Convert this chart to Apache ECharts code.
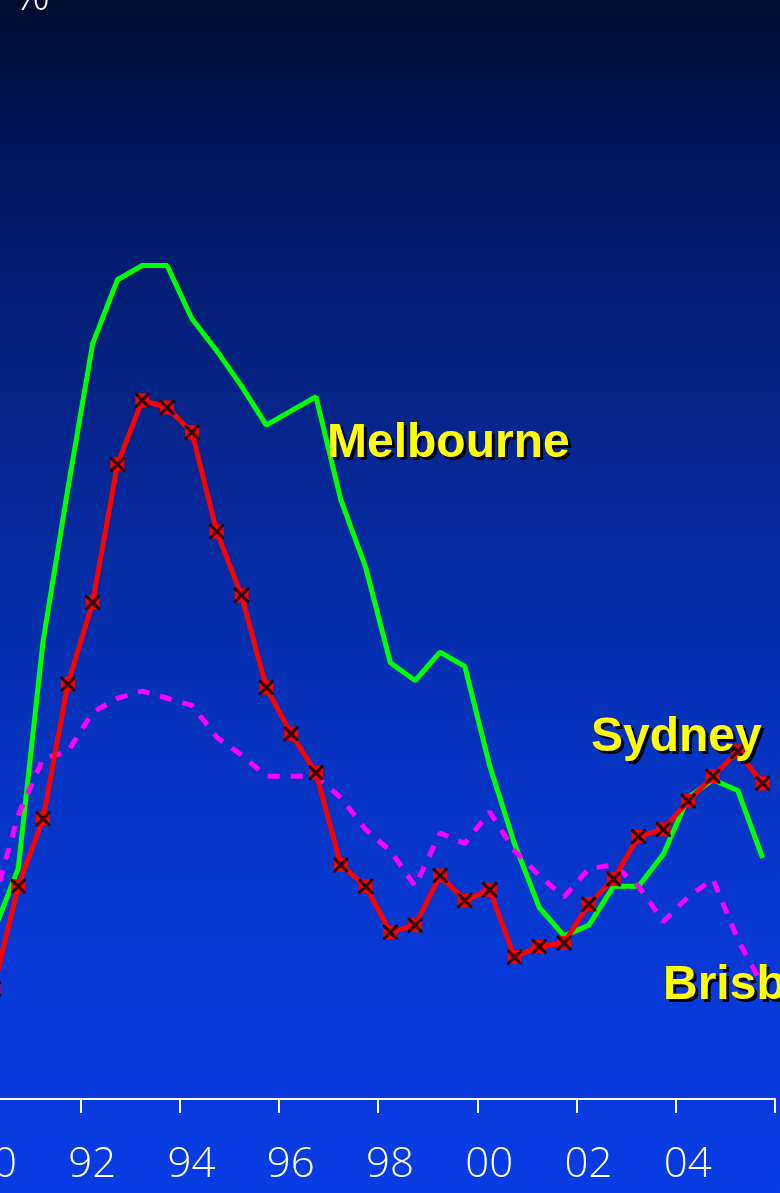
<!DOCTYPE html>
<html>
<head>
<meta charset="utf-8">
<script src="https://cdn.jsdelivr.net/npm/echarts@6/dist/echarts.min.js"></script>
<style>
  html, body { margin: 0; padding: 0; background: #083ce2; }
  #chart { width: 780px; height: 1193px; }
</style>
</head>
<body>
<div id="chart"></div>
<script>
// Half-yearly observations (mid-point of each half year)
const periods = [
  1990.25, 1990.75, 1991.25, 1991.75, 1992.25, 1992.75, 1993.25, 1993.75,
  1994.25, 1994.75, 1995.25, 1995.75, 1996.25, 1996.75, 1997.25, 1997.75,
  1998.25, 1998.75, 1999.25, 1999.75, 2000.25, 2000.75, 2001.25, 2001.75,
  2002.25, 2002.75, 2003.25, 2003.75, 2004.25, 2004.75, 2005.25, 2005.75
];

// Vacancy rates, per cent
const sydney = [
  3.1, 6.0, 7.9, 11.7, 14.0, 17.9, 19.7, 19.5,
  18.8, 16.0, 14.2, 11.6, 10.3, 9.2, 6.6, 6.0,
  4.7, 4.9, 6.3, 5.6, 5.9, 4.0, 4.3, 4.4,
  5.5, 6.2, 7.4, 7.6, 8.4, 9.1, 9.8, 8.9
];
const melbourne = [
  4.7, 6.5, 12.9, 17.2, 21.3, 23.1, 23.5, 23.5,
  22.0, 21.1, 20.1, 19.0, 19.4, 19.8, 16.9, 15.0,
  12.3, 11.8, 12.6, 12.2, 9.4, 7.2, 5.4, 4.6,
  4.9, 6.0, 6.0, 6.9, 8.5, 9.0, 8.7, 6.8
];
const brisbane = [
  5.5, 8.0, 9.6, 9.8, 10.9, 11.3, 11.5, 11.3,
  11.1, 10.2, 9.7, 9.1, 9.1, 9.1, 8.5, 7.6,
  7.0, 6.0, 7.5, 7.2, 8.1, 7.0, 6.3, 5.7,
  6.5, 6.6, 6.0, 5.0, 5.7, 6.2, 4.5, 3.2
];

const cityNames = ['Sydney', 'Melbourne', 'Brisbane'];
const unitLabel = '%';
const lastYear = 2006;

const pairs = (vals) => periods.map((p, i) => [p, vals[i]]);

// Black cross drawn over each Sydney marker
const crossPath = 'path://M0,0 L3,0 L10,7 L17,0 L20,0 L20,3 L13,10 L20,17 L20,20 L17,20 L10,13 L3,20 L0,20 L0,17 L7,10 L0,3 Z';

const labelFont = 'bold 48px "Liberation Sans", Arial, sans-serif';
function cityText(name, x, y) {
  return [
    { type: 'text', z: 50, style: { x: x + 3, y: y + 3, text: name, font: labelFont, fill: '#000000', verticalAlign: 'middle' } },
    { type: 'text', z: 51, style: { x: x, y: y, text: name, font: labelFont, fill: '#ffff00', verticalAlign: 'middle' } }
  ];
}

const chart = echarts.init(document.getElementById('chart'), null, { renderer: 'canvas' });

chart.setOption({
  animation: false,
  backgroundColor: {
    type: 'linear', x: 0, y: 0, x2: 0, y2: 1,
    colorStops: [
      { offset: 0, color: '#000c30' },
      { offset: 0.12, color: '#01165a' },
      { offset: 0.35, color: '#05258c' },
      { offset: 0.6, color: '#0632bb' },
      { offset: 0.82, color: '#0839d8' },
      { offset: 1, color: '#083ce4' }
    ]
  },
  grid: { left: -19, right: 5, top: 35, bottom: 94, containLabel: false, outerBoundsMode: 'none' },
  xAxis: {
    type: 'value',
    min: 1990,
    max: lastYear,
    interval: 2,
    axisLine: { show: true, lineStyle: { color: '#ffffff', width: 2 } },
    axisTick: { show: true, length: 14, lineStyle: { color: '#ffffff', width: 2 } },
    splitLine: { show: false },
    axisLabel: {
      show: true,
      showMinLabel: true,
      showMaxLabel: true,
      formatter: (v) => (v === lastYear ? '' : String(v).slice(2)),
      color: '#ffffff',
      fontFamily: '"Open Sans", sans-serif',
      fontWeight: 300,
      fontSize: 42,
      lineHeight: 42,
      margin: 45,
      padding: [0, 0, 0, 24]
    }
  },
  yAxis: {
    type: 'value',
    min: 0,
    max: 30,
    show: false
  },
  series: [
    {
      name: cityNames[1],
      type: 'line',
      data: pairs(melbourne),
      symbol: 'none',
      lineStyle: { color: '#00ff00', width: 5 },
      z: 2
    },
    {
      name: cityNames[2],
      type: 'line',
      data: pairs(brisbane),
      symbol: 'none',
      lineStyle: { color: '#ff00ff', width: 5, type: [12, 11] },
      z: 3
    },
    {
      name: cityNames[0],
      type: 'line',
      data: pairs(sydney),
      symbol: 'rect',
      symbolSize: 14,
      showAllSymbol: true,
      itemStyle: { color: '#ff0000' },
      lineStyle: { color: '#ff0000', width: 5 },
      z: 4
    },
    {
      name: cityNames[0] + ' marks',
      type: 'scatter',
      data: pairs(sydney),
      symbol: crossPath,
      symbolSize: 15,
      itemStyle: { color: '#000000' },
      z: 5
    }
  ],
  graphic: [
    { type: 'text', z: 50, style: { x: 13, y: -3, text: unitLabel, font: '300 46px "Open Sans", sans-serif', fill: '#ffffff', verticalAlign: 'middle' } },
    ...cityText(cityNames[1], 327, 444),
    ...cityText(cityNames[0], 591, 738),
    ...cityText(cityNames[2], 663, 986)
  ]
});
</script>
</body>
</html>
